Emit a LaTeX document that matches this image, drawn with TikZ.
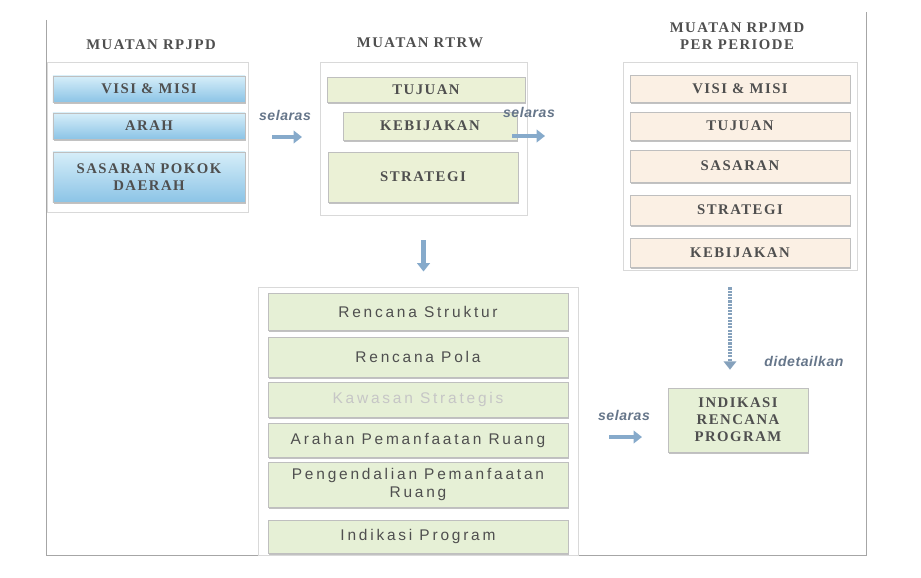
\documentclass[tikz,border=0pt]{standalone}
\usepackage{fontspec}
\setmainfont{Liberation Serif}
\setsansfont{Liberation Sans}
\newfontfamily\capsfont{Liberation Serif}[LetterSpace=10]
\newfontfamily\labelfont{Liberation Sans}[LetterSpace=18]
\newfontfamily\notefont{Liberation Sans}[LetterSpace=4]
\usepackage{xcolor}
\usetikzlibrary{arrows.meta, positioning, calc, shadows}
\definecolor{txtgray}{HTML}{4F4F4F}
\definecolor{jptop}{HTML}{D6EEF9}
\definecolor{jpbot}{HTML}{8CC4E6}
\definecolor{rtfill}{HTML}{EBF1D6}
\definecolor{rmfill}{HTML}{FBF0E4}
\definecolor{rcfill}{HTML}{E6F0D6}
\definecolor{arrblue}{HTML}{86AACB}
\definecolor{lblblue}{HTML}{66768A}
\tikzset{
	grpframe/.style={draw=gray!30, line width=0.6pt, inner sep=0pt},
	headtext/.style={font=\capsfont\bfseries\fontsize{10.5}{12}\selectfont, text=txtgray, align=center},
	boxshadow/.style={drop shadow={shadow xshift=0.5pt, shadow yshift=-1.2pt, fill=gray!80, opacity=.6}},
	jpbox/.style={draw=gray!50, top color=jptop, bottom color=jpbot, inner sep=0pt, minimum width=4.8cm, font=\capsfont\bfseries\fontsize{10.5}{12}\selectfont, text=txtgray, align=center, boxshadow},
	rtbox/.style={draw=gray!50, fill=rtfill, inner sep=0pt, font=\capsfont\bfseries\fontsize{10.5}{12}\selectfont, text=txtgray, boxshadow},
	rmbox/.style={draw=gray!50, fill=rmfill, inner sep=0pt, minimum width=5.5cm, font=\capsfont\bfseries\fontsize{10.5}{12}\selectfont, text=txtgray, boxshadow},
	rcbox/.style={draw=gray!50, fill=rcfill, inner sep=0pt, minimum width=7.5cm, font=\labelfont\fontsize{11}{13}\selectfont, text=txtgray, align=center, boxshadow},
	selarasarr/.style={-{Triangle[width=9pt, length=6pt]}, line width=2.6pt, draw=arrblue},
	arrlabel/.style={font=\notefont\bfseries\itshape\fontsize{10}{11}\selectfont, text=lblblue},
}

\begin{document}
\begin{tikzpicture}[x=0.025cm, y=-0.025cm]
	\useasboundingbox (0,0) rectangle (921,578);
	% outer frame
	\draw[gray!70, line width=0.7pt] (46,20) -- (46,555) -- (866,555) -- (866,12);

	% RPJPD
	\node[headtext] (thd1) at (151,45) {MUATAN RPJPD};
	\node[grpframe, minimum width=5.025cm, minimum height=3.75cm] (lgrp) at (147.5,137) {};
	\node[jpbox, minimum height=0.65cm] (visi) at (149,89) {VISI \& MISI};
	\node[jpbox, minimum height=0.65cm] (arah) at (149,126) {ARAH};
	\node[jpbox, minimum height=1.25cm] (sspokok) at (149,177) {SASARAN POKOK\\DAERAH};

	% RTRW
	\node[headtext] (thd2) at (420,43) {MUATAN RTRW};
	\node[grpframe, minimum width=5.175cm, minimum height=3.825cm] (mgrp) at (423.5,138.5) {};
	\node[rtbox, minimum width=4.95cm, minimum height=0.625cm] (tujuan) at (426,89.5) {TUJUAN};
	\node[rtbox, minimum width=4.35cm, minimum height=0.7cm] (kebijakan) at (430,126) {KEBIJAKAN};
	\node[rtbox, minimum width=4.75cm, minimum height=1.25cm] (strategi) at (423,177) {STRATEGI};

	% RPJMD
	\node[headtext] (thd3) at (737,36) {MUATAN RPJMD\\PER PERIODE};
	\node[grpframe, minimum width=5.85cm, minimum height=5.2cm] (rgrp) at (740,166) {};
	\node[rmbox, minimum height=0.675cm] (visimd) at (740,88.5) {VISI \& MISI};
	\node[rmbox, minimum height=0.7cm] (tujuanmd) at (740,126) {TUJUAN};
	\node[rmbox, minimum height=0.8cm] (sasaranmd) at (740,166) {SASARAN};
	\node[rmbox, minimum height=0.75cm] (strategimd) at (740,210) {STRATEGI};
	\node[rmbox, minimum height=0.725cm] (kebijakanmd) at (740,252.5) {KEBIJAKAN};

	% rencana tata ruang
	\node[grpframe, minimum width=8cm, minimum height=6.7cm] (bgrp) at (418,421) {};
	\node[rcbox, minimum height=0.925cm] (struktur) at (418,311.5) {Rencana Struktur};
	\node[rcbox, minimum height=1cm] (pola) at (418,357) {Rencana Pola};
	\node[rcbox, minimum height=0.875cm, text=gray!45] (kawasan) at (418,399.5) {Kawasan Strategis};
	\node[rcbox, minimum height=0.85cm] (arahan) at (418,440) {Arahan Pemanfaatan Ruang};
	\node[rcbox, minimum height=1.125cm] (pengendalian) at (418,484.5) {Pengendalian Pemanfaatan\\Ruang};
	\node[rcbox, minimum height=0.825cm] (indprog) at (418,536.5) {Indikasi Program};

	\node[rcbox, minimum width=3.5cm, minimum height=1.6cm, font=\capsfont\bfseries\fontsize{10.5}{12}\selectfont] (indikasi) at (738,420) {INDIKASI\\RENCANA\\PROGRAM};

	% arrows
	\coordinate (s1a) at (272,137);
	\coordinate (s1b) at (302,137);
	\coordinate (s2a) at (512,136);
	\coordinate (s2b) at (545,136);
	\coordinate (s3a) at (609,437);
	\coordinate (s3b) at (642,437);
	\draw[selarasarr] (s1a) -- (s1b);
	\draw[selarasarr] (s2a) -- (s2b);
	\draw[selarasarr] (s3a) -- (s3b);
	\node[arrlabel] (sl1) at (285,115) {selaras};
	\node[arrlabel] (sl2) at (529,112) {selaras};
	\node[arrlabel] (sl3) at (624,415) {selaras};
	\draw[selarasarr, line width=3pt, shorten <=0.625cm, shorten >=0.375cm] (mgrp.south) -- (mgrp.south |- bgrp.north);
	\draw[selarasarr, draw=arrblue!80!gray, line width=2.2pt, dash pattern=on 1.5pt off 0.8pt, shorten <=0.425cm, shorten >=0.45cm] ([xshift=-0.2cm]indikasi.north |- rgrp.south) -- ([xshift=-0.2cm]indikasi.north);
	\node[arrlabel] (detail) at (804,361) {didetailkan};
\end{tikzpicture}
\end{document}
